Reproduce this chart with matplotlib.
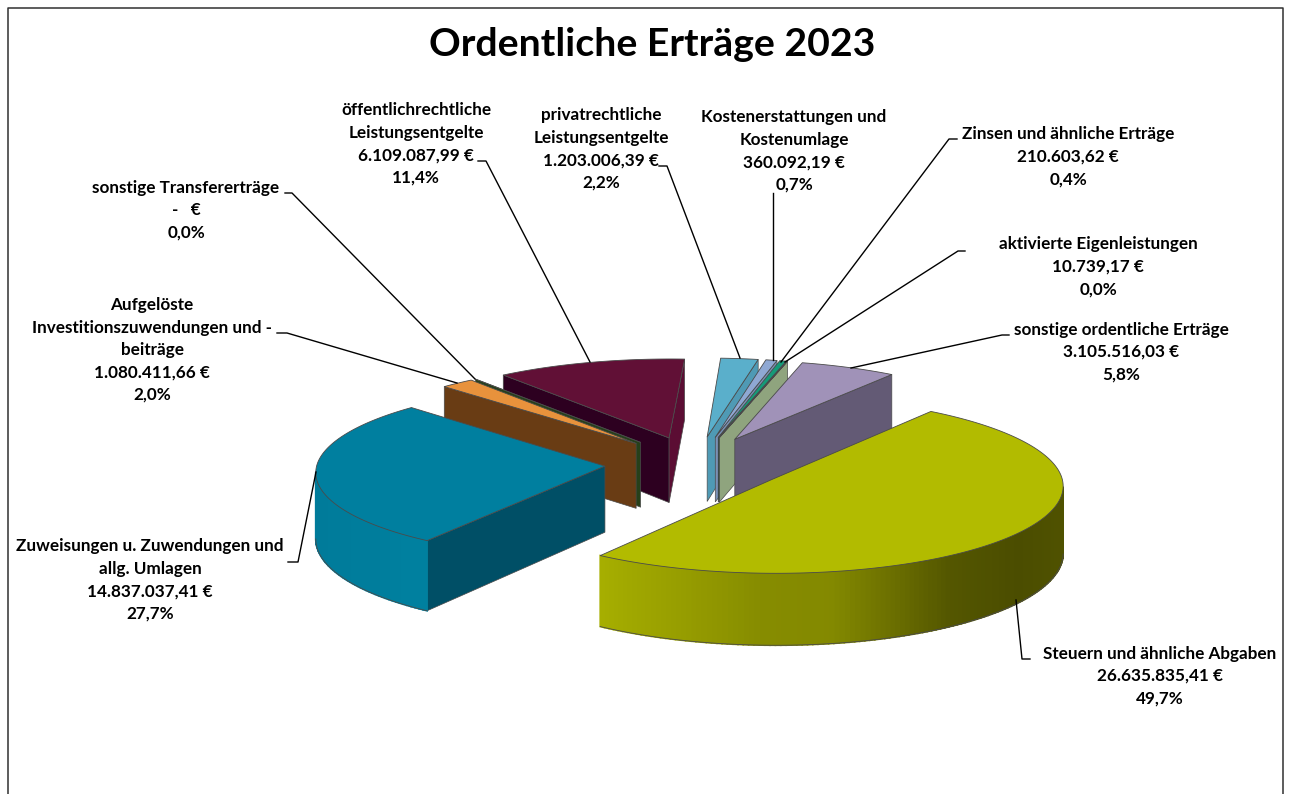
import numpy as np
import matplotlib
matplotlib.use('Agg')
import matplotlib.pyplot as plt
from matplotlib.patches import Polygon
from matplotlib.colors import to_rgb

# ---- data ----
categories = ['Steuern und ähnliche Abgaben', 'Zuweisungen u. Zuwendungen und\nallg. Umlagen',
              'Aufgelöste\nInvestitionszuwendungen und -\nbeiträge', 'sonstige Transfererträge',
              'öffentlichrechtliche\nLeistungsentgelte', 'privatrechtliche\nLeistungsentgelte',
              'Kostenerstattungen und\nKostenumlage', 'Zinsen und ähnliche Erträge',
              'aktivierte Eigenleistungen', 'sonstige ordentliche Erträge']
values = [26635835.41, 14837037.41, 1080411.66, 0.0, 6109087.99, 1203006.39,
          360092.19, 210603.62, 10739.17, 3105516.03]
title = 'Ordentliche Erträge 2023'

# ---- slice colours: top, start face, end face, wall light, wall dark ----
colors = [('#b2bb00', '#5a5e00', '#5a5e00', '#a6ae00', '#4b4d00'),
          ('#007f9f', '#004f66', '#004f66', '#007b9a', '#00809f'),
          ('#e8923c', '#693c14', '#693c14', '#693c14', '#693c14'),
          ('#2b4a1c', '#26401a', '#24401a', '#2b4a1c', '#2b4a1c'),
          ('#611036', '#2d0020', '#5b0d33', '#5b0d33', '#5b0d33'),
          ('#5aafcb', '#4b97b0', '#4f9ab5', '#5aafcb', '#5aafcb'),
          ('#8fa8d3', '#7a90b5', '#7a90b5', '#8fa8d3', '#8fa8d3'),
          ('#159a78', '#10352c', '#10352c', '#159a78', '#159a78'),
          ('#24473a', '#8fa47e', '#8fa47e', '#8fa47e', '#8fa47e'),
          ('#a092b8', '#635a75', '#635a75', '#a092b8', '#a092b8')]

# ---- projection fitted to the picture ----
CX, CY, F, K, P, A0, E = 696.13, 463.62, 287.86, 0.2999, 0.0575, 35.888, 0.3176
DEPTH, Q = 66.0, 0.07

vals = np.array(values)
span = vals / vals.sum() * 360
start = A0 + np.concatenate([[0], np.cumsum(span)[:-1]])


def world(i, th=None):
    b = np.radians(start[i] + span[i] / 2)
    X, Y = E * np.sin(b), E * np.cos(b)
    if th is not None:
        t = np.radians(th)
        X, Y = X + np.sin(t), Y + np.cos(t)
    return X, Y


def project(X, Y, low=False):
    w = 1 + P * Y
    x = CX + F * X / w
    y = CY - F * K * Y / w
    if low:
        y = y + DEPTH / (1 + Q * Y)
    return x, y


def area(pts):
    x, y = np.array(pts).T
    return 0.5 * np.sum(x * np.roll(y, -1) - np.roll(x, -1) * y)


fig = plt.figure(figsize=(12.9, 7.94), dpi=100)
ax = fig.add_axes([0, 0, 1, 1])
ax.set_xlim(0, 1290)
ax.set_ylim(794, 0)
ax.axis('off')

# frame (runs past the bottom of the picture)
ax.plot([8, 8, 1283, 1283], [820, 8, 8, 820], color='#303030', lw=1.1)

order = sorted(range(len(vals)), key=lambda i: -np.cos(np.radians(start[i] + span[i] / 2)))
EDGE = '#4a4a4a'
for z, i in enumerate(order):
    top, c_s, c_e, w_l, w_d = colors[i]
    ths = np.linspace(start[i], start[i] + span[i], max(2, int(np.ceil(span[i])) + 1))
    ax_, ay_ = world(i)
    wx, wy = world(i, ths)
    tx, ty = project(wx, wy)
    bx, by = project(wx, wy, True)
    apx, apy = project(ax_, ay_)
    alx, aly = project(ax_, ay_, True)
    base = 10 + z * 5
    # radial faces
    f1 = [(apx, apy), (tx[0], ty[0]), (bx[0], by[0]), (alx, aly)]
    f2 = [(tx[-1], ty[-1]), (apx, apy), (alx, aly), (bx[-1], by[-1])]
    if area(f1) < 0:
        ax.add_patch(Polygon(f1, fc=c_s, ec=EDGE, lw=0.5, zorder=base))
    if area(f2) < 0:
        ax.add_patch(Polygon(f2, fc=c_e, ec=EDGE, lw=0.5, zorder=base))
    # outer wall, facet by facet, shaded across its width
    xmin, xmax = tx.min(), tx.max()
    L, D = np.array(to_rgb(w_l)), np.array(to_rgb(w_d))
    for j in range(len(ths) - 1):
        q = [(tx[j], ty[j]), (tx[j + 1], ty[j + 1]), (bx[j + 1], by[j + 1]), (bx[j], by[j])]
        if area(q) < 0:
            fx = (0.5 * (tx[j] + tx[j + 1]) - xmin) / max(xmax - xmin, 1)
            s = np.interp(fx, [0, 0.35, 0.5, 0.75, 0.9, 1], [0, 0.35, 0.38, 0.9, 1, 0.95])
            col = L + (D - L) * s
            ax.add_patch(Polygon(q, fc=col, ec=col, lw=1.2, zorder=base + 1))
    vis = np.array([area([(tx[j], ty[j]), (tx[j + 1], ty[j + 1]), (bx[j + 1], by[j + 1]), (bx[j], by[j])]) < 0
                    for j in range(len(ths) - 1)])
    if vis.any() and span[i] > 1:
        idx = np.where(vis)[0]
        a, b = idx[0], idx[-1] + 2
        ax.plot(bx[a:b], by[a:b], color=EDGE, lw=0.6, zorder=base + 2)
    # top
    pts = [(apx, apy)] + list(zip(tx, ty))
    ax.add_patch(Polygon(pts, fc=top, ec=EDGE, lw=0.6, zorder=base + 3, joinstyle='round'))

# ---- texts ----
FONT = 'Lato'
ax.text(652, 44, title, ha='center', va='center', family=FONT, weight='bold', fontsize=28.3, color='black', zorder=200)


def eur(v):
    if v == 0:
        return '-   €'
    s = f'{v:,.2f}'.replace(',', 'X').replace('.', ',').replace('X', '.')
    return s + ' €'


def pct(v):
    return f'{v / vals.sum() * 100:.1f}%'.replace('.', ',')


label_pos = [(1160, 676), (150, 580), (152, 350), (186, 210), (416, 144),
             (601, 149), (794, 151), (1068, 157), (1098, 267), (1121, 352)]
for i, (x, y) in enumerate(label_pos):
    ax.text(x, y, f'{categories[i]}\n{eur(values[i])}\n{pct(values[i])}', ha='center', va='center',
            family=FONT, weight='bold', fontsize=12.3, color='black', linespacing=1.5, zorder=200)

leaders = [[(1030, 659), (1022, 659), (1016, 600)], [(288, 562), (298, 562), (316, 472)],
           [(277, 333), (287, 333), (457, 383)], [(285, 193), (292, 193), (475, 379)],
           [(478, 161), (486, 161), (590, 362)], [(659, 166), (667, 166), (740, 358)],
           [(773, 193), (773, 360)], [(957, 139), (949, 139), (781, 362)],
           [(965, 251), (958, 251), (785, 362)], [(1009, 335), (1002, 335), (851, 368)]]
for seg in leaders:
    x, y = zip(*seg)
    ax.plot(x, y, color='black', lw=1.0, zorder=150)

fig.savefig('out.png', dpi=100)
